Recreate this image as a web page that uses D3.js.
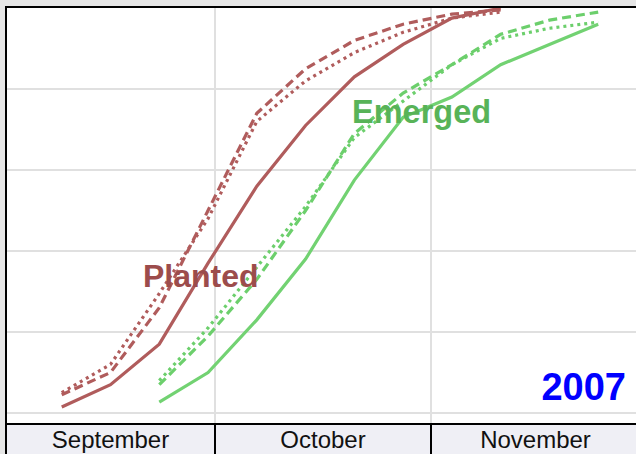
<!DOCTYPE html>
<html>
<head>
<meta charset="utf-8">
<script src="https://cdn.jsdelivr.net/npm/d3@7"></script>
<style>
  body { margin: 0; background: #e6e6e6; }
  svg { display: block; font-family: "Liberation Sans", Arial, sans-serif; }
</style>
</head>
<body>
<div id="chart"></div>
<script>
// --- data: weekly progress (percent of crop), week ending Sunday ---
const weeks = ["2007-09-09", "2007-09-16", "2007-09-23", "2007-09-30", "2007-10-07", "2007-10-14",
  "2007-10-21", "2007-10-28", "2007-11-04", "2007-11-11", "2007-11-18", "2007-11-25"];

const plantedThisYear = [1.5, 7, 17, 37, 56, 71, 83, 91, 97.5, 100, null, null];
const plantedLastYear = [4.5, 10, 26, 50, 74, 85, 92, 96, 98.5, 99.5, null, null];
const plantedAverage  = [5, 12, 29.5, 48, 72, 82, 89, 94, 97.5, 99, null, null];

const emergedThisYear = [null, null, 2.7, 10, 23, 38, 57.5, 73, 78, 86, 91, 96];
const emergedLastYear = [null, null, 7, 19, 33, 50, 69, 79, 86, 93.5, 97, 99];
const emergedAverage  = [null, null, 8, 21, 36, 51, 68, 77, 86, 92.5, 95, 96.5];

const months = ["September", "October", "November"];
const yTicks = [0, 20, 40, 60, 80];

// --- sizing ---
const W = 636, H = 454;
const plot = { left: 6, top: 7, right: 640, bottom: 423, band: 424 };

const parse = d3.timeParse("%Y-%m-%d");
const dates = weeks.map(parse);

const svg = d3.select("#chart").append("svg")
  .attr("width", W)
  .attr("height", H);

const x = d3.scaleTime()
  .domain([new Date(2007, 8, 1), new Date(2007, 11, 1)])
  .range([plot.left, plot.right]);

const y = d3.scaleLinear()
  .domain([0, 100])
  .range([413, 8]);

// plot background
svg.append("rect")
  .attr("x", plot.left)
  .attr("y", plot.top)
  .attr("width", plot.right - plot.left)
  .attr("height", plot.bottom - plot.top)
  .attr("fill", "#fff");

// gridlines
const monthStarts = d3.timeMonth.range(x.domain()[0], x.domain()[1]);

svg.append("g")
  .selectAll("line")
  .data(yTicks)
  .join("line")
  .attr("x1", plot.left)
  .attr("x2", plot.right)
  .attr("y1", d => y(d))
  .attr("y2", d => y(d))
  .attr("stroke", "#e0e0e0")
  .attr("stroke-width", 2);

svg.append("g")
  .selectAll("line")
  .data(monthStarts.slice(1))
  .join("line")
  .attr("x1", d => x(d))
  .attr("x2", d => x(d))
  .attr("y1", plot.top)
  .attr("y2", plot.bottom)
  .attr("stroke", "#e0e0e0")
  .attr("stroke-width", 2);

// --- lines ---
const line = d3.line()
  .defined(d => d[1] != null)
  .x(d => x(d[0]))
  .y(d => y(d[1]));

const series = [
  { values: plantedThisYear, color: "#b05c5c", dash: null },
  { values: plantedLastYear, color: "#b05c5c", dash: "9,5" },
  { values: plantedAverage, color: "#b05c5c", dash: "3,4" },
  { values: emergedThisYear, color: "#72d272", dash: null },
  { values: emergedLastYear, color: "#6ccf6c", dash: "9,5" },
  { values: emergedAverage, color: "#6ccf6c", dash: "3,4" }
];

svg.append("g")
  .attr("class", "lines")
  .selectAll("path")
  .data(series)
  .join("path")
  .attr("d", s => line(dates.map((d, i) => [d, s.values[i]])))
  .attr("fill", "none")
  .attr("stroke", s => s.color)
  .attr("stroke-width", 3.2)
  .attr("stroke-dasharray", s => s.dash);

// labels
svg.append("text")
  .attr("x", 143)
  .attr("y", 287)
  .attr("font-size", 32)
  .attr("font-weight", "bold")
  .attr("fill", "#9c4c4c")
  .text("Planted");

svg.append("text")
  .attr("x", 352)
  .attr("y", 123)
  .attr("font-size", 32.5)
  .attr("font-weight", "bold")
  .attr("fill", "#58b358")
  .text("Emerged");

svg.append("text")
  .attr("x", 626)
  .attr("y", 400)
  .attr("text-anchor", "end")
  .attr("font-size", 38)
  .attr("font-weight", "bold")
  .attr("fill", "#0000ff")
  .text("2007");

// --- month band ---
const band = svg.append("g").attr("class", "month-band");

band.append("rect")
  .attr("x", plot.left)
  .attr("y", plot.band)
  .attr("width", plot.right - plot.left)
  .attr("height", 40)
  .attr("fill", "#efeff5")
  .attr("stroke", "#000")
  .attr("stroke-width", 2);

band.selectAll("line")
  .data(monthStarts)
  .join("line")
  .attr("x1", d => x(d))
  .attr("x2", d => x(d))
  .attr("y1", plot.band)
  .attr("y2", H)
  .attr("stroke", "#000")
  .attr("stroke-width", 2);

band.selectAll("text")
  .data(monthStarts)
  .join("text")
  .attr("x", d => (x(d) + x(d3.timeMonth.offset(d, 1))) / 2)
  .attr("y", 448)
  .attr("text-anchor", "middle")
  .attr("font-size", 24)
  .attr("fill", "#111")
  .text((d, i) => months[i]);

// plot frame (left + top)
svg.append("line")
  .attr("x1", plot.left).attr("x2", plot.left)
  .attr("y1", plot.top - 1).attr("y2", H)
  .attr("stroke", "#000").attr("stroke-width", 2);

svg.append("line")
  .attr("x1", plot.left - 1).attr("x2", W)
  .attr("y1", plot.top).attr("y2", plot.top)
  .attr("stroke", "#000").attr("stroke-width", 2);
</script>
</body>
</html>
